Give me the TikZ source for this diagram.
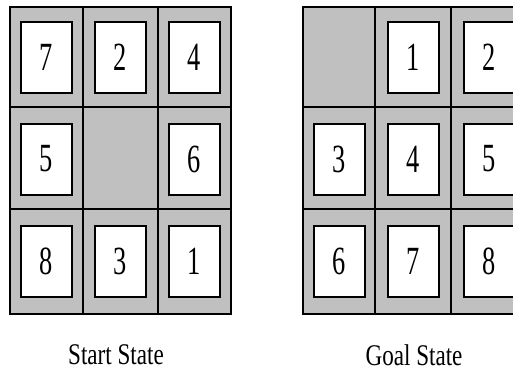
\documentclass[tikz,border=0pt]{standalone}
\usepackage{fontspec}
\setmainfont{Liberation Serif}
\definecolor{boardgray}{RGB}{192,192,192}
\begin{document}
\begin{tikzpicture}[x=1pt,y=-1pt,
  tile/.style={draw=black,line width=2pt,fill=white,minimum width=51pt,minimum height=71pt,inner sep=0pt},
  grid/.style={draw=black,line width=1.5pt},
  lbl/.style={inner sep=0pt}]
\useasboundingbox (0,0) rectangle (513,369);
\clip (0,0) rectangle (513,369);
\newcommand{\tiledig}[1]{\scalebox{0.66}[1]{\fontsize{40}{40}\selectfont #1}}
\newcommand{\captxt}[1]{\scalebox{0.77}[1]{\fontsize{30}{30}\selectfont #1}}
% start board
\fill[boardgray] (10,7) rectangle (231,314);
\foreach \x/\n in {46.5/a,120.5/b,194.5/c}{
  \foreach \y/\m in {57.5/1,159/2,261/3}{
    \coordinate (s\n\m) at (\x,\y);
  }
}
\node[tile] (t7) at (sa1) {\tiledig{7}};
\node[tile] (t2) at (sb1) {\tiledig{2}};
\node[tile] (t4) at (sc1) {\tiledig{4}};
\node[tile] (t5) at (sa2) {\tiledig{5}};
\node[tile] (t6) at (sc2) {\tiledig{6}};
\node[tile] (t8) at (sa3) {\tiledig{8}};
\node[tile] (t3) at (sb3) {\tiledig{3}};
\node[tile] (t1) at (sc3) {\tiledig{1}};
\draw[grid] (10,7) rectangle (231,314);
\draw[grid] (83,7) -- (83,314) (158,7) -- (158,314) (10,107) -- (231,107) (10,209) -- (231,209);
% goal board
\fill[boardgray] (303,7) rectangle (527,314);
\foreach \x/\n in {339.5/a,413/b,489/c}{
  \foreach \y/\m in {57.5/1,159/2,261/3}{
    \coordinate (g\n\m) at (\x,\y);
  }
}
\node[tile] (g1) at (gb1) {\tiledig{1}};
\node[tile] (g2) at (gc1) {\tiledig{2}};
\node[tile] (g3) at (ga2) {\tiledig{3}};
\node[tile] (g4) at (gb2) {\tiledig{4}};
\node[tile] (g5) at (gc2) {\tiledig{5}};
\node[tile] (g6) at (ga3) {\tiledig{6}};
\node[tile] (g7) at (gb3) {\tiledig{7}};
\node[tile] (g8) at (gc3) {\tiledig{8}};
\draw[grid] (303,7) rectangle (527,314);
\draw[grid] (375,7) -- (375,314) (451,7) -- (451,314) (303,107) -- (527,107) (303,209) -- (527,209);
% captions
\node[lbl] (start) at (116,355) {\captxt{Start State}};
\node[lbl] (goal) at (414,355) {\captxt{Goal State}};
\end{tikzpicture}
\end{document}
